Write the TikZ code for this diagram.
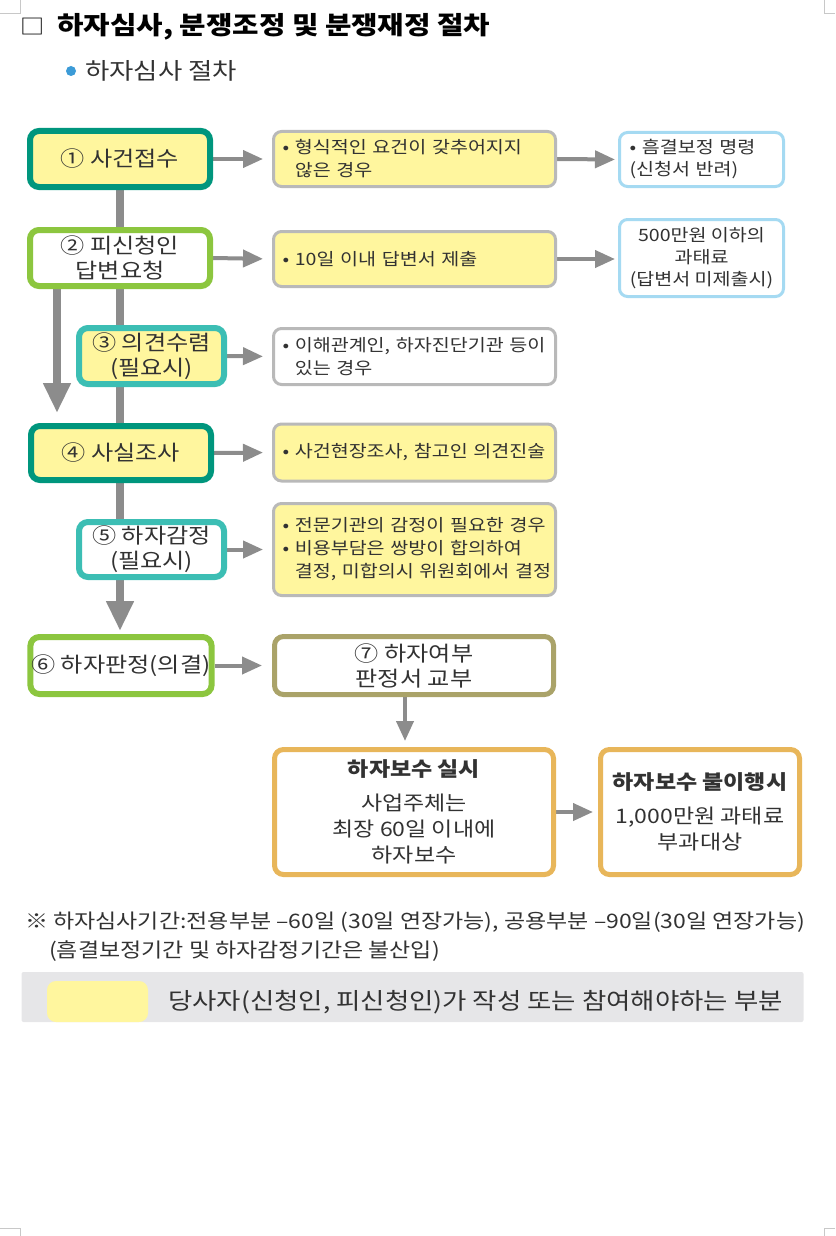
\documentclass[tikz,border=0pt]{standalone}
\usepackage{fontspec}
\setmainfont[FakeStretch=1.15]{Noto Sans CJK KR}
\usetikzlibrary{arrows.meta,backgrounds}
\definecolor{tealdark}{RGB}{0,150,125}
\definecolor{teallight}{RGB}{60,190,180}
\definecolor{greenb}{RGB}{140,198,63}
\definecolor{oliveb}{RGB}{170,163,105}
\definecolor{goldb}{RGB}{232,182,90}
\definecolor{grayb}{RGB}{185,185,185}
\definecolor{blueb}{RGB}{165,218,242}
\definecolor{yel}{RGB}{255,246,158}
\definecolor{arrowgray}{RGB}{140,140,140}
\definecolor{legendbg}{RGB}{230,230,232}
\definecolor{txt}{RGB}{50,50,50}
\definecolor{bulletblue}{RGB}{60,155,215}
\definecolor{markgray}{RGB}{200,200,200}
\tikzset{
  mainbox/.style={draw, rounded corners=9pt, line width=6pt, align=center, text=txt, inner sep=1pt,
    font={\fontsize{21}{25}\selectfont}},
  sidebox/.style={draw=grayb, rounded corners=8pt, line width=3pt, align=left, text=txt, inner sep=1pt,
    minimum width=282pt, text width=264pt, font={\fontsize{17}{23}\selectfont}},
  farbox/.style={draw=blueb, rounded corners=8pt, line width=3pt, text=txt, inner sep=1pt,
    minimum width=164pt, font={\fontsize{17}{22}\selectfont}},
  resbox/.style={draw=goldb, rounded corners=9pt, line width=5pt, align=center, text=txt, inner sep=1pt,
    minimum height=125pt, font={\fontsize{20}{26}\selectfont}},
  harrow/.style={draw=arrowgray, line width=4pt, -{Triangle[length=20pt,width=17pt]}, shorten >=9pt},
  bigline/.style={draw=arrowgray, line width=8pt},
  bigarrow/.style={draw=arrowgray, line width=8pt, -{Triangle[length=30pt,width=26pt]}},
  cornermark/.style={draw=markgray, line width=1pt},
}
\newcommand{\bl}{\phantom{• }}
\begin{document}
\begin{tikzpicture}[x=1pt,y=-1pt]
\useasboundingbox (0,0) rectangle (835,1236);

% corner marks
\draw[cornermark] (20,0) -- (20,14) -- (0,14);
\draw[cornermark] (824,0) -- (824,14) -- (835,14);
\draw[cornermark] (0,1228) -- (20,1228) -- (20,1236);
\draw[cornermark] (835,1228) -- (824,1228) -- (824,1236);

% title
\node[font={\fontsize{21}{24}\selectfont}] (tbox) at (33,27) {□};
\node[anchor=west, font={\fontsize{25}{28}\bfseries\selectfont}, text=black, inner sep=0pt] (title) at (57,27)
  {하자심사, 분쟁조정 및 분쟁재정 절차};
\fill[bulletblue] (71,71) circle (5pt);
\node[anchor=west, font={\fontsize{23}{26}\selectfont}, text=txt, inner sep=0pt] (sub) at (85,71) {하자심사 절차};

% left column
\node[mainbox, draw=tealdark, fill=yel, minimum width=180pt, minimum height=56pt] (b1) at (120,159) {① 사건접수};
\node[mainbox, draw=greenb, fill=white, minimum width=180pt, minimum height=56pt] (b2) at (120,258) {② 피신청인\\답변요청};
\node[mainbox, draw=teallight, fill=yel, minimum width=145pt, minimum height=56pt] (b3) at (151.5,356) {③ 의견수렴\\(필요시)};
\node[mainbox, draw=tealdark, fill=yel, minimum width=180pt, minimum height=54pt] (b4) at (121,453) {④ 사실조사};
\node[mainbox, draw=teallight, fill=white, minimum width=145pt, minimum height=55pt] (b5) at (151.5,549.5) {⑤ 하자감정\\(필요시)};
\node[mainbox, draw=greenb, fill=white, minimum width=178pt, minimum height=57pt] (b6) at (121,665.5) {⑥ 하자판정(의결)};
\node[mainbox, draw=oliveb, line width=5pt, fill=white, minimum width=279pt, minimum height=58pt] (b7) at (414,665.5) {⑦ 하자여부\\판정서 교부};
\node[resbox, fill=white, minimum width=279pt] (b8) at (414,812) {\textbf{하자보수 실시}\\[8pt]사업주체는\\최장 60일 이내에\\하자보수};
\node[resbox, fill=white, minimum width=199pt] (b9) at (700,812) {\textbf{하자보수 불이행시}\\[8pt]1,000만원 과태료\\부과대상};

% side boxes
\node[sidebox, fill=yel, minimum height=55pt] (r1) at (414.5,159) {\mbox{• 형식적인 요건이 갖추어지지}\\\mbox{\bl 않은 경우}};
\node[sidebox, fill=yel, minimum height=55pt] (r2) at (414.5,259) {\mbox{• 10일 이내 답변서 제출}};
\node[sidebox, fill=white, minimum height=56pt] (r3) at (414.5,356.5) {\mbox{• 이해관계인, 하자진단기관 등이}\\\mbox{\bl 있는 경우}};
\node[sidebox, fill=yel, minimum height=57pt] (r4) at (414.5,452.5) {\mbox{• 사건현장조사, 참고인 의견진술}};
\node[sidebox, fill=yel, minimum height=92pt] (r5) at (414.5,549.5) {\mbox{• 전문기관의 감정이 필요한 경우}\\\mbox{• 비용부담은 쌍방이 합의하여}\\\mbox{\bl 결정, 미합의시 위원회에서 결정}};

% far boxes
\node[farbox, fill=white, align=left, text width=144pt, minimum height=54pt] (f1) at (701.5,159.5) {• 흠결보정 명령\\(신청서 반려)};
\node[farbox, fill=white, align=center, minimum height=77pt] (f2) at (701.5,258) {500만원 이하의\\과태료\\(답변서 미제출시)};

% note
\node[anchor=west, inner sep=0pt, text=txt, font={\fontsize{20}{24}\selectfont}] (n1) at (25,922)
  {※ 하자심사기간:전용부분 –60일 (30일 연장가능), 공용부분 –90일(30일 연장가능)};
\node[anchor=west, inner sep=0pt, text=txt, font={\fontsize{20}{24}\selectfont}] (n2) at (49,951)
  {(흠결보정기간 및 하자감정기간은 불산입)};

% legend
\node[fill=legendbg, minimum width=782pt, minimum height=50pt, inner sep=0pt, rounded corners=2pt] (lg) at (412.5,997) {};
\node[fill=yel, minimum width=101pt, minimum height=41pt, inner sep=0pt, rounded corners=9pt] (ly) at (97.5,1001.5) {};
\node[anchor=west, inner sep=0pt, text=txt, font={\fontsize{23}{26}\selectfont}] (lt) at (168,1002)
  {당사자(신청인, 피신청인)가 작성 또는 참여해야하는 부분};

% connectors
\coordinate (mx) at (120,0);
\coordinate (lx) at (57,0);
\coordinate (ax) at (405,0);
\begin{scope}[on background layer]
  \draw[bigline] (b1.south -| mx) -- (b2.north -| mx);
  \draw[bigline] (b2.south -| mx) -- (b4.north -| mx);
  \draw[bigline] (b4.south -| mx) -- (b5.north -| mx);
  \draw[bigarrow, shorten >=3pt] (b5.south -| mx) -- (b6.north -| mx);
  \draw[bigarrow, shorten >=10pt] (b2.south -| lx) -- (b4.north -| lx);
  \draw[harrow] (b1.east) -- (r1.west);
  \draw[harrow] (b2.east) -- (r2.west);
  \draw[harrow] (b3.east) -- (r3.west);
  \draw[harrow] (b4.east) -- (r4.west);
  \draw[harrow] (b5.east) -- (r5.west);
  \draw[harrow, shorten >=3pt] (r1.east) -- (f1.west);
  \draw[harrow, shorten >=3pt] (r2.east) -- (r2.east -| f2.west);
  \draw[harrow, shorten >=10pt] (b6.east) -- (b7.west);
  \draw[harrow, shorten >=6pt] (b7.south -| ax) -- (b8.north -| ax);
  \draw[harrow, shorten >=5pt] (b8.east) -- (b9.west);
\end{scope}
\end{tikzpicture}
\end{document}
